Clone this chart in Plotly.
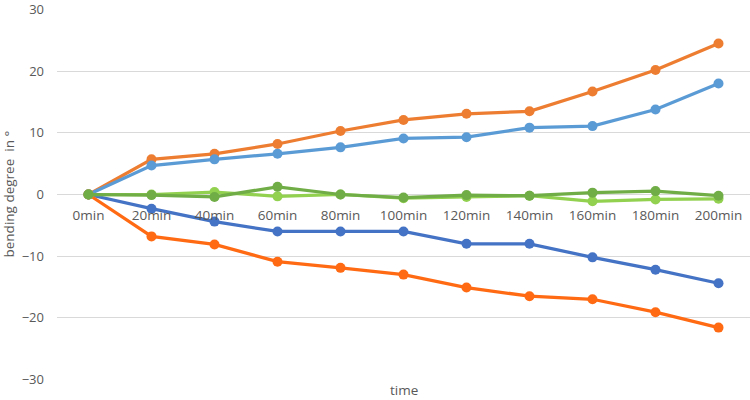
import plotly.graph_objects as go

categories = ["0min", "20min", "40min", "60min", "80min", "100min", "120min", "140min", "160min", "180min", "200min"]

orange_up = [0, 5.7, 6.6, 8.2, 10.3, 12.1, 13.1, 13.5, 16.7, 20.2, 24.5]
blue_up = [0, 4.7, 5.7, 6.6, 7.65, 9.1, 9.3, 10.85, 11.1, 13.8, 18.0]
blue_down = [0, -2.3, -4.4, -6.0, -6.0, -6.0, -8.0, -8.0, -10.2, -12.2, -14.4]
orange_down = [0, -6.8, -8.1, -10.9, -11.9, -13.0, -15.1, -16.5, -17.0, -19.1, -21.6]
green_light = [0, 0.0, 0.4, -0.3, 0.0, -0.6, -0.4, -0.2, -1.1, -0.8, -0.7]
green_dark = [0, -0.1, -0.4, 1.25, 0.0, -0.5, -0.1, -0.2, 0.3, 0.55, -0.2]

y_ticks = [-30, -20, -10, 0, 10, 20, 30]

series = [
    (orange_up, "#ED7D31"),
    (blue_up, "#5B9BD5"),
    (blue_down, "#4472C4"),
    (orange_down, "#FF6A13"),
    (green_light, "#92D050"),
    (green_dark, "#70AD47"),
]

fig = go.Figure()
for vals, col in series:
    fig.add_trace(go.Scatter(
        x=categories, y=vals, mode="lines+markers",
        line=dict(color=col, width=3.25),
        marker=dict(color=col, size=10),
        showlegend=False, hoverinfo="skip",
    ))

font_family = "Open Sans"
fig.update_layout(
    width=750, height=400,
    margin=dict(l=57, r=0, t=9, b=20),
    paper_bgcolor="white", plot_bgcolor="white",
    font=dict(family=font_family, color="#595959", size=12),
    xaxis=dict(
        type="category", range=[-0.5, 10.5],
        anchor="free", position=0.5, automargin=False,
        showgrid=False, showline=False, zeroline=False,
        ticks="", tickfont=dict(size=13.5, color="#595959"),
        ticklabelstandoff=11,
    ),
    yaxis=dict(
        range=[-30.1, 30.1], tickvals=y_ticks, automargin=False,
        showgrid=True, gridcolor="#D9D9D9", gridwidth=1,
        zeroline=True, zerolinecolor="#D9D9D9", zerolinewidth=1,
        showline=False, ticks="",
        tickfont=dict(size=13, color="#595959"),
        ticklabelstandoff=12,
        ticklabeloverflow="allow",
    ),
    annotations=[
        dict(text="bending degree  in °", xref="paper", yref="paper",
             x=-49/693, y=0.5, xanchor="center", yanchor="middle",
             textangle=-90, showarrow=False,
             font=dict(size=13.5, color="#595959", family=font_family)),
        dict(text="time", xref="paper", yref="paper",
             x=0.5, y=-10/371, xanchor="center", yanchor="middle",
             showarrow=False,
             font=dict(size=13.5, color="#595959", family=font_family)),
    ],
)

fig.write_html("out.html", config={"displayModeBar": False},
               post_script="document.body.style.margin='0';document.body.style.padding='0';")
